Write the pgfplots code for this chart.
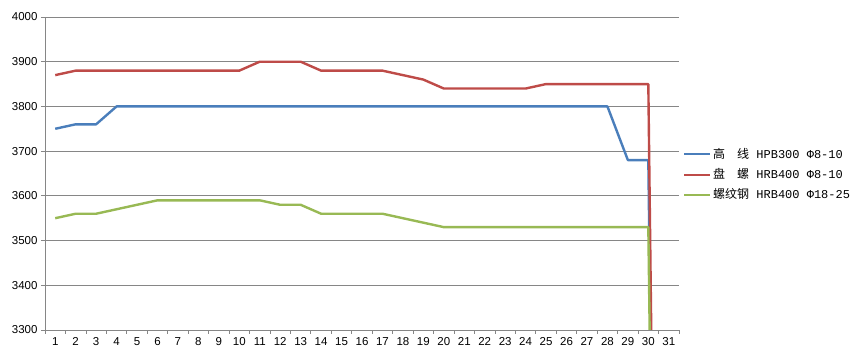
\documentclass[border=0pt]{standalone}
\usepackage{pgfplots}
\pgfplotsset{compat=1.18}
\usepackage{fontspec}
\setmainfont{Liberation Sans}
\newfontfamily\cjk{Noto Sans CJK SC}
\newfontfamily\mono{Liberation Mono}
\definecolor{sblue}{HTML}{4A7EBB}
\definecolor{sred}{HTML}{BE4B48}
\definecolor{sgreen}{HTML}{98B954}
\definecolor{gridc}{HTML}{868686}
\begin{document}
\begin{tikzpicture}
\useasboundingbox (-45pt,-27pt) rectangle (808pt,330pt);
\begin{axis}[
  at={(0,0)}, anchor=south west,
  scale only axis, width=634pt, height=313pt,
  xmin=0.5, xmax=31.5, ymin=3300, ymax=4000,
  ytick={3300,3400,3500,3600,3700,3800,3900,4000},
  xtick={0.5,1.5,2.5,3.5,4.5,5.5,6.5,7.5,8.5,9.5,10.5,11.5,12.5,13.5,14.5,15.5,16.5,17.5,18.5,19.5,20.5,21.5,22.5,23.5,24.5,25.5,26.5,27.5,28.5,29.5,30.5,31.5},
  x tick label as interval,
  xticklabels={1,2,3,4,5,6,7,8,9,10,11,12,13,14,15,16,17,18,19,20,21,22,23,24,25,26,27,28,29,30,31},
  ymajorgrids,
  major grid style={gridc, line width=0.75pt},
  axis x line*=bottom, axis y line*=left,
  axis line style={gridc, line width=0.75pt, -},
  tick align=outside,
  major tick length=4pt,
  tick style={gridc, line width=0.75pt},
  tick label style={font=\fontsize{11.5}{13}\selectfont, black},
  /pgf/number format/assume math mode=true,
  /pgf/number format/set thousands separator={},
  legend style={draw=none, fill=none, at={(1,0.5)}, anchor=west,
    xshift=4pt, yshift=-1pt, inner sep=0pt,
    font=\fontsize{12}{14}\selectfont, row sep=4.5pt},
  legend cell align=left,
  legend image code/.code={\draw[#1, line width=2pt] (0pt,0pt) -- (26pt,0pt);},
  every axis plot/.append style={line width=2.4pt, line join=round},
]
\addplot[sblue] coordinates {
(1,3750)(2,3760)(3,3760)(4,3800)(5,3800)(6,3800)(7,3800)(8,3800)(9,3800)(10,3800)
(11,3800)(12,3800)(13,3800)(14,3800)(15,3800)(16,3800)(17,3800)(18,3800)(19,3800)(20,3800)
(21,3800)(22,3800)(23,3800)(24,3800)(25,3800)(26,3800)(27,3800)(28,3800)(29,3680)(30,3680)(31,0)};
\addlegendentry{{\cjk 高　线}{\mono\ HPB300 Φ8-10}}
\addplot[sred] coordinates {
(1,3870)(2,3880)(3,3880)(4,3880)(5,3880)(6,3880)(7,3880)(8,3880)(9,3880)(10,3880)
(11,3900)(12,3900)(13,3900)(14,3880)(15,3880)(16,3880)(17,3880)(18,3870)(19,3860)(20,3840)
(21,3840)(22,3840)(23,3840)(24,3840)(25,3850)(26,3850)(27,3850)(28,3850)(29,3850)(30,3850)(31,0)};
\addlegendentry{{\cjk 盘　螺}{\mono\ HRB400 Φ8-10}}
\addplot[sgreen] coordinates {
(1,3550)(2,3560)(3,3560)(4,3570)(5,3580)(6,3590)(7,3590)(8,3590)(9,3590)(10,3590)
(11,3590)(12,3580)(13,3580)(14,3560)(15,3560)(16,3560)(17,3560)(18,3550)(19,3540)(20,3530)
(21,3530)(22,3530)(23,3530)(24,3530)(25,3530)(26,3530)(27,3530)(28,3530)(29,3530)(30,3530)(31,0)};
\addlegendentry{{\cjk 螺纹钢}{\mono\ HRB400 Φ18-25}}
\end{axis}
\end{tikzpicture}
\end{document}
